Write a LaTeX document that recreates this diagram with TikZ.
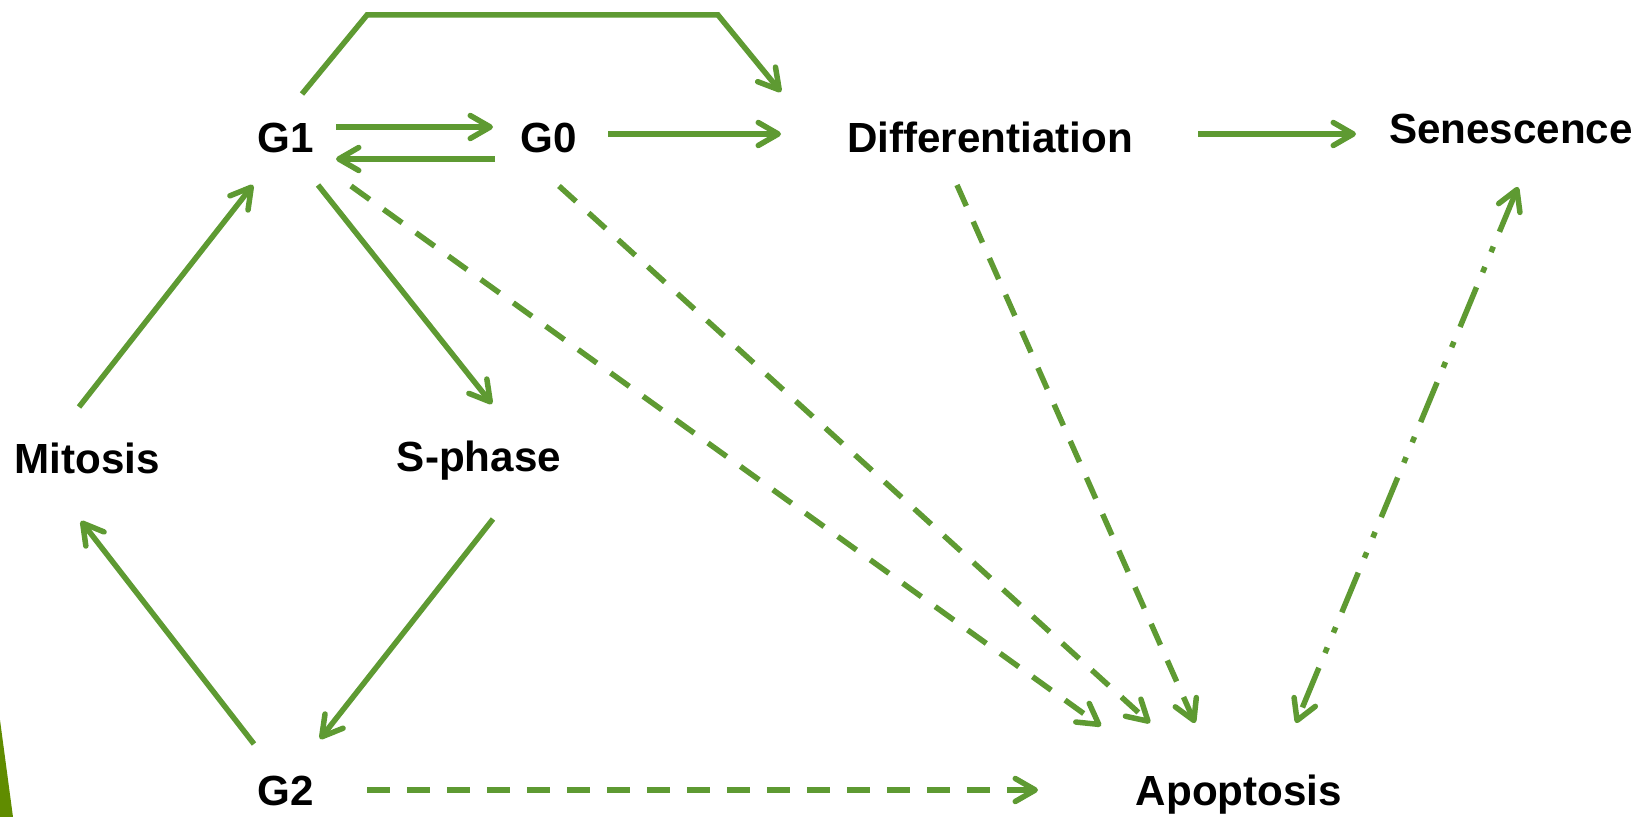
\documentclass[tikz,border=0pt]{standalone}
\usepackage{fontspec}
\setmainfont{Liberation Sans}
\usetikzlibrary{arrows.meta,calc}
\definecolor{arrgreen}{RGB}{94,154,50}
\definecolor{wedgegreen}{RGB}{96,140,0}
\begin{document}
\begin{tikzpicture}[x=0.02cm,y=-0.02cm,
  lbl/.style={anchor=base,font=\fontsize{24}{28}\selectfont\bfseries,inner sep=0pt},
  tipb/.tip={Straight Barb[length=0.4cm,width=0.46cm,round]},
  conn/.style={draw=arrgreen,line width=0.11cm,-tipb},
  dashedconn/.style={conn,dash pattern=on 0.46cm off 0.34cm},
  dashdotconn/.style={draw=arrgreen,line width=0.11cm,tipb-tipb,
    dash pattern=on 0.86cm off 0.32cm on 0.12cm off 0.32cm on 0.12cm off 0.32cm}]
\useasboundingbox (0,0) rectangle (1644,817);
\fill[wedgegreen] (0,720) -- (13,817) -- (0,817) -- cycle;
% labels
\node[lbl] (G1) at (286,153) {G1};
\node[lbl] (G0) at (549,153) {G0};
\node[lbl] (Diff) at (990,153) {Differentiation};
\node[lbl] (Sen) at (1511,144) {Senescence};
\node[lbl] (Mit) at (87,474) {Mitosis};
\node[lbl] (Sph) at (479,472) {S-phase};
\node[lbl] (G2) at (286,805) {G2};
\node[lbl] (Apo) at (1239,805) {Apoptosis};
% solid connectors
\draw[conn] ($(G1.base)+(16,-59)$) -- (367,15) -- (718,15) -- ($(Diff.base)+(-209,-61)$);
\draw[conn] ($(G1.base)+(50,-26)$) -- ($(G0.base)+(-56,-26)$);
\draw[conn] ($(G0.base)+(-54,6)$) -- ($(G1.base)+(50,6)$);
\draw[conn] ($(G0.base)+(59,-19)$) -- ($(Diff.base)+(-209,-19)$);
\draw[conn] ($(Diff.base)+(208,-19)$) -- ($(Sen.base)+(-155,-10)$);
\draw[conn] ($(Mit.base)+(-8,-67)$) -- ($(G1.base)+(-33,32)$);
\draw[conn] ($(G1.base)+(32,32)$) -- ($(Sph.base)+(13,-68)$);
\draw[conn] ($(Sph.base)+(14,47)$) -- ($(G2.base)+(34,-66)$);
\draw[conn] ($(G2.base)+(-32,-61)$) -- ($(Mit.base)+(-6,47)$);
% dashed connectors
\draw[dashedconn] ($(G2.base)+(81,-15)$) -- ($(Apo.base)+(-201,-15)$);
\draw[dashedconn] ($(G1.base)+(65,33)$) -- ($(Apo.base)+(-138,-79)$);
\draw[dashedconn] ($(G0.base)+(10,33)$) -- ($(Apo.base)+(-89,-82)$);
\draw[dashedconn] ($(Diff.base)+(-33,32)$) -- ($(Apo.base)+(-44,-82)$);
\draw[dashdotconn] ($(Sen.base)+(7,43)$) -- ($(Apo.base)+(57,-82)$);
\end{tikzpicture}
\end{document}
